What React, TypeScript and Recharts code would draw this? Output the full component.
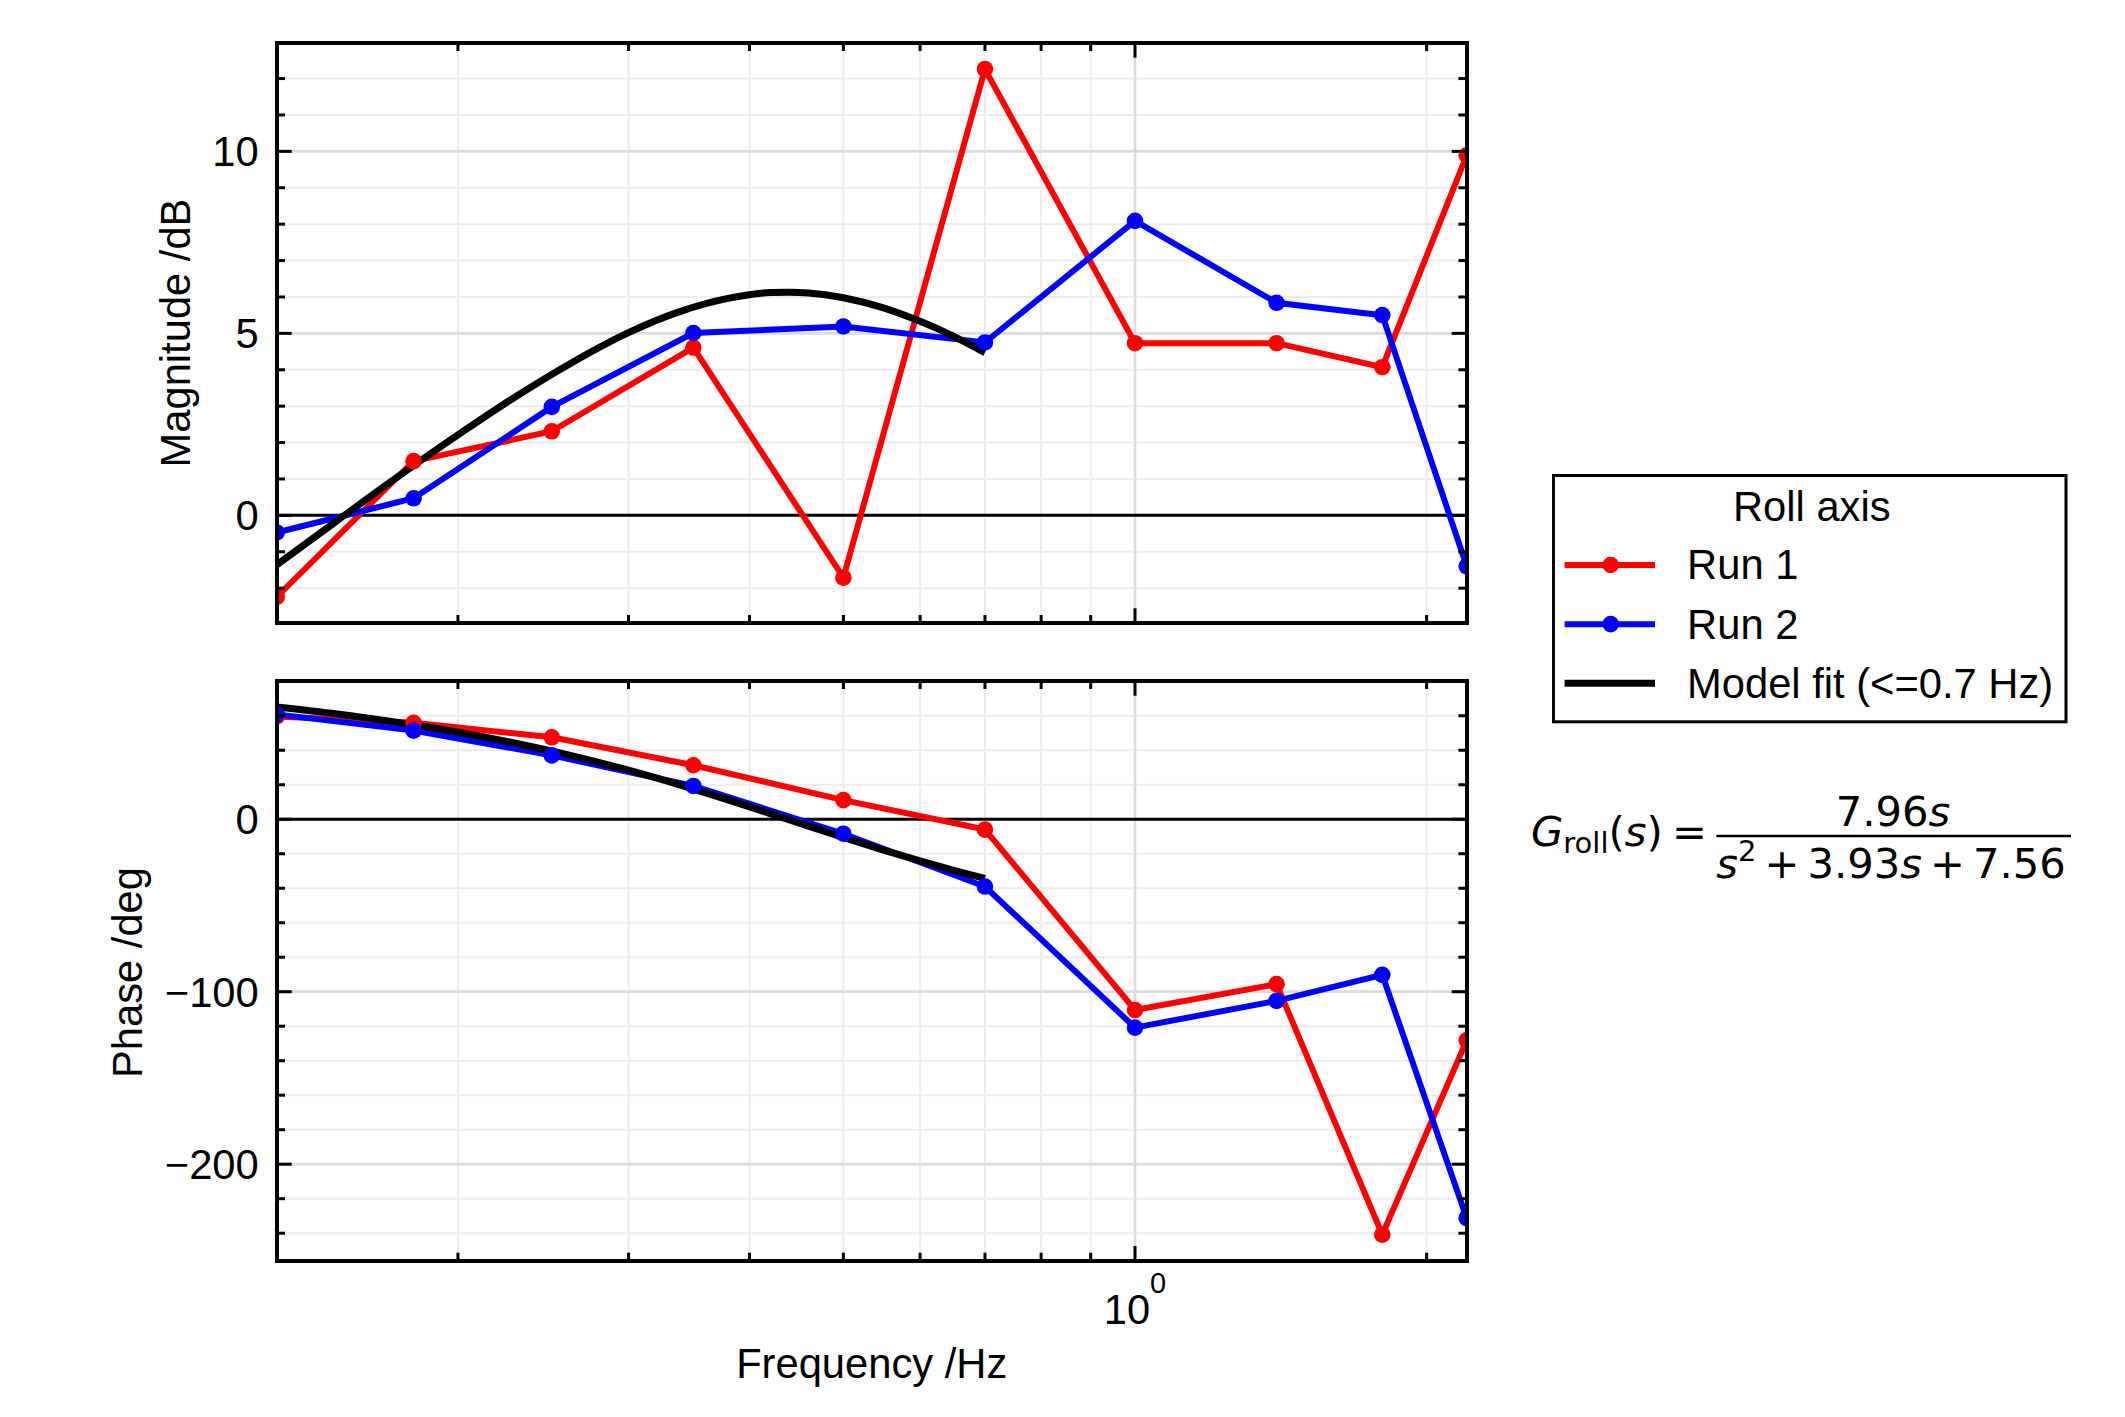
import React from 'react';
import { LineChart, Line, XAxis, YAxis, CartesianGrid, ReferenceLine, Legend } from 'recharts';

// ---------------- data ----------------
const freqs = [0.13, 0.18, 0.25, 0.35, 0.5, 0.7, 1.0, 1.4, 1.8, 2.2];
const run1Mag = [-2.24, 1.49, 2.31, 4.61, -1.71, 12.26, 4.73, 4.73, 4.07, 9.89];
const run2Mag = [-0.47, 0.47, 2.98, 5.01, 5.19, 4.75, 8.09, 5.84, 5.5, -1.4];
const run1Phase = [59.6, 55.9, 47.5, 31.3, 11.1, -6.0, -110.6, -95.6, -240.8, -128.2];
const run2Phase = [60.8, 51.4, 37.0, 19.3, -8.4, -39.0, -120.8, -105.3, -90.2, -231.3];

const modelFreqs = [0.13, 0.15, 0.17, 0.2, 0.23, 0.26, 0.3, 0.34, 0.38, 0.42, 0.44, 0.46, 0.5, 0.55, 0.6, 0.65, 0.7];
const modelMag = [-1.36, -0.15, 0.9, 2.21, 3.28, 4.14, 5.02, 5.61, 5.96, 6.12, 6.13, 6.11, 5.98, 5.7, 5.33, 4.92, 4.47];
const modelPhase = [65.03, 60.96, 56.82, 50.45, 43.93, 37.3, 28.41, 19.64, 11.21, 3.29, -0.44, -4.0, -10.6, -17.88, -24.18, -29.61, -34.29];

const freqTicks = [0.2, 0.3, 0.4, 0.5, 0.6, 0.7, 0.8, 0.9, 1, 2];
const freqMajor = [1];
const magTicks = [-2, -1, 0, 1, 2, 3, 4, 5, 6, 7, 8, 9, 10, 11, 12];
const magMajor = [0, 5, 10];
const phaseTicks = [-240, -220, -200, -180, -160, -140, -120, -100, -80, -60, -40, -20, 0, 20, 40, 60, 80];
const phaseMajor = [-200, -100, 0];

const seriesNames = ['Run 1', 'Run 2', 'Model fit (<=0.7 Hz)'];
const seriesColors = ['#ff0000', '#0000ff', '#000000'];
const legendTitle = 'Roll axis';
const xLabel = 'Frequency /Hz';
const magLabel = 'Magnitude /dB';
const phaseLabel = 'Phase /deg';
const fitNum = '7.96';
const fitB = '3.93';
const fitC = '7.56';

const freqDomain = [0.13, 2.2];
const magDomain = [-2.965, 12.985];
const phaseDomain = [-256.12, 80.32];

// ---------------- layout ----------------
const W = 2125;
const PLOT_LEFT = 276.7;
const PLOT_RIGHT = 1466.7;
const TOP1 = 42.7;
const BOT1 = 623.3;
const CH2_Y = 660;
const TOP2 = 680.7 - CH2_Y;
const BOT2 = 1261 - CH2_Y;
const H1 = 740;
const H2 = 757;
const XH1 = 1;
const XH2 = 120;

const FONT = '"Liberation Sans", Arial, Helvetica, sans-serif';
const MATH_FONT = '"DejaVu Sans", sans-serif';
const FS = 41.7;
const MAJOR_LEN = 15;
const MINOR_LEN = 8.3;
const TICK_W = 3;
const LW = 6;
const LW_FIT = 7;
const DOT_R = 8.3;

const toRows = (xs: number[], ys: number[]) => xs.map((f, i) => ({ f, v: ys[i] }));
const fmt = (v: number) => (v < 0 ? '\u2212' + Math.abs(v) : String(v));

const makeXTick = (top: number, bottom: number, withLabels: boolean) => (props: any) => {
  const x = props.x;
  const v = props.payload.value;
  const major = freqMajor.includes(v);
  const len = major ? MAJOR_LEN : MINOR_LEN;
  const expo = Math.round(Math.log10(v));
  return (
    <g>
      <line x1={x} x2={x} y1={bottom} y2={bottom - len} stroke="#000" strokeWidth={TICK_W} />
      <line x1={x} x2={x} y1={top} y2={top + len} stroke="#000" strokeWidth={TICK_W} />
      {withLabels && major ? (
        <text x={x} y={bottom + 63} textAnchor="middle" fontFamily={FONT} fontSize={FS} fill="#000">
          10
          <tspan dy={-31} fontSize={29}>{String(expo)}</tspan>
        </text>
      ) : null}
    </g>
  );
};

const makeYTick = (majors: number[]) => (props: any) => {
  const y = props.y;
  const v = props.payload.value;
  const major = majors.includes(v);
  const len = major ? MAJOR_LEN : MINOR_LEN;
  return (
    <g>
      <line x1={PLOT_LEFT} x2={PLOT_LEFT + len} y1={y} y2={y} stroke="#000" strokeWidth={TICK_W} />
      <line x1={PLOT_RIGHT - len} x2={PLOT_RIGHT} y1={y} y2={y} stroke="#000" strokeWidth={TICK_W} />
      {major ? (
        <text x={PLOT_LEFT - 18} y={y + 15} textAnchor="end" fontFamily={FONT} fontSize={FS} fill="#000">
          {fmt(v)}
        </text>
      ) : null}
    </g>
  );
};

const LEG_X = 1552;
const LEG_Y = 474;
const LEG_W = 515.5;
const LEG_H = 249.3;

const renderLegend = (props: any) => {
  const raw: any[] = props && props.payload && props.payload.length ? props.payload : [];
  const items = seriesNames.map((n, i) => {
    const found = raw.find((it: any) => it.value === n);
    return { value: n, color: (found && found.color) || seriesColors[i] };
  });
  return (
    <svg width={LEG_W} height={LEG_H} style={{ display: 'block', overflow: 'visible' }}>
      <rect x={1.5} y={1.5} width={LEG_W - 3} height={LEG_H - 3} fill="#fff" stroke="#000" strokeWidth={3} />
      <text x={LEG_W / 2 + 2} y={47} textAnchor="middle" fontFamily={FONT} fontSize={FS} fill="#000">
        {legendTitle}
      </text>
      {items.map((it: any, i: number) => {
        const cy = 91 + i * 59.15;
        const name = it.value;
        const color = it.color;
        const hasDot = name !== seriesNames[2];
        return (
          <g key={String(name)}>
            <line x1={12.6} x2={103} y1={cy} y2={cy} stroke={color} strokeWidth={hasDot ? LW : LW_FIT} />
            {hasDot ? <circle cx={58.7} cy={cy} r={DOT_R} fill={color} /> : null}
            <text x={135.1} y={cy + 14.4} fontFamily={FONT} fontSize={FS} fill="#000">
              {name}
            </text>
          </g>
        );
      })}
    </svg>
  );
};

const dotFor = (c: string) => ({ r: DOT_R, fill: c, stroke: c, strokeWidth: 0 });

const Frame = ({ top, bottom }: { top: number; bottom: number }) => (
  <div
    style={{
      position: 'absolute',
      left: PLOT_LEFT - 2,
      top: top - 2,
      width: PLOT_RIGHT - PLOT_LEFT + 4,
      height: bottom - top + 4,
      border: '4px solid #000',
      boxSizing: 'border-box',
      pointerEvents: 'none',
    }}
  />
);

export default function App() {
  return (
    <div style={{ position: 'absolute', left: 0, top: 0, width: W, height: 1417, background: '#fff', overflow: 'hidden' }}>
      {/* Magnitude panel */}
      <div style={{ position: 'absolute', left: 0, top: 0 }}>
        <LineChart
          width={W}
          height={H1}
          margin={{ top: TOP1, right: W - PLOT_RIGHT, bottom: H1 - BOT1 - XH1, left: 0 }}
        >
          <CartesianGrid stroke="#ececec" strokeWidth={2} />
          {magMajor.filter((v) => v !== 0).map((v) => (
            <ReferenceLine key={'mm' + v} y={v} stroke="#dcdcdc" strokeWidth={2.7} />
          ))}
          {freqMajor.map((v) => (
            <ReferenceLine key={'fm' + v} x={v} stroke="#dcdcdc" strokeWidth={2.7} />
          ))}
          <ReferenceLine y={0} stroke="#000" strokeWidth={3} />
          <XAxis
            type="number"
            dataKey="f"
            scale="log"
            domain={freqDomain}
            ticks={freqTicks}
            interval={0}
            allowDataOverflow
            axisLine={false}
            tickLine={false}
            tickSize={0}
            tickMargin={0}
            height={XH1}
            tick={makeXTick(TOP1, BOT1, false)}
          />
          <YAxis
            type="number"
            domain={magDomain}
            ticks={magTicks}
            interval={0}
            allowDataOverflow
            axisLine={false}
            tickLine={false}
            tickSize={0}
            tickMargin={0}
            width={PLOT_LEFT}
            tick={makeYTick(magMajor)}
            label={{
              content: () => (
                <text x={190} y={333} transform="rotate(-90 190 333)" textAnchor="middle" fontFamily={FONT} fontSize={FS} fill="#000">
                  {magLabel}
                </text>
              ),
            }}
          />
          <Line data={toRows(freqs, run1Mag)} dataKey="v" name={seriesNames[0]} stroke={seriesColors[0]} strokeWidth={LW} dot={dotFor(seriesColors[0])} activeDot={false} isAnimationActive={false} />
          <Line data={toRows(freqs, run2Mag)} dataKey="v" name={seriesNames[1]} stroke={seriesColors[1]} strokeWidth={LW} dot={dotFor(seriesColors[1])} activeDot={false} isAnimationActive={false} />
          <Line data={toRows(modelFreqs, modelMag)} dataKey="v" name={seriesNames[2]} type="monotone" stroke={seriesColors[2]} strokeWidth={LW_FIT} dot={false} activeDot={false} isAnimationActive={false} />
          <Legend
            layout="vertical"
            align="center"
            verticalAlign="middle"
            wrapperStyle={{ position: 'absolute', left: LEG_X, top: LEG_Y, width: LEG_W, height: LEG_H, margin: 0, padding: 0 }}
            content={renderLegend}
          />
        </LineChart>
      </div>

      {/* Phase panel */}
      <div style={{ position: 'absolute', left: 0, top: CH2_Y }}>
        <LineChart
          width={W}
          height={H2}
          margin={{ top: TOP2, right: W - PLOT_RIGHT, bottom: H2 - BOT2 - XH2, left: 0 }}
        >
          <CartesianGrid stroke="#ececec" strokeWidth={2} />
          {phaseMajor.filter((v) => v !== 0).map((v) => (
            <ReferenceLine key={'pm' + v} y={v} stroke="#dcdcdc" strokeWidth={2.7} />
          ))}
          {freqMajor.map((v) => (
            <ReferenceLine key={'fm2' + v} x={v} stroke="#dcdcdc" strokeWidth={2.7} />
          ))}
          <ReferenceLine y={0} stroke="#000" strokeWidth={3} />
          <XAxis
            type="number"
            dataKey="f"
            scale="log"
            domain={freqDomain}
            ticks={freqTicks}
            interval={0}
            allowDataOverflow
            axisLine={false}
            tickLine={false}
            tickSize={0}
            tickMargin={0}
            height={XH2}
            tick={makeXTick(TOP2, BOT2, true)}
            label={{
              content: () => (
                <text x={(PLOT_LEFT + PLOT_RIGHT) / 2} y={1378 - CH2_Y} textAnchor="middle" fontFamily={FONT} fontSize={FS} fill="#000">
                  {xLabel}
                </text>
              ),
            }}
          />
          <YAxis
            type="number"
            domain={phaseDomain}
            ticks={phaseTicks}
            interval={0}
            allowDataOverflow
            axisLine={false}
            tickLine={false}
            tickSize={0}
            tickMargin={0}
            width={PLOT_LEFT}
            tick={makeYTick(phaseMajor)}
            label={{
              content: () => (
                <text x={141.7} y={312.5} transform="rotate(-90 141.7 312.5)" textAnchor="middle" fontFamily={FONT} fontSize={FS} fill="#000">
                  {phaseLabel}
                </text>
              ),
            }}
          />
          <Line data={toRows(freqs, run1Phase)} dataKey="v" name={seriesNames[0]} stroke={seriesColors[0]} strokeWidth={LW} dot={dotFor(seriesColors[0])} activeDot={false} isAnimationActive={false} />
          <Line data={toRows(freqs, run2Phase)} dataKey="v" name={seriesNames[1]} stroke={seriesColors[1]} strokeWidth={LW} dot={dotFor(seriesColors[1])} activeDot={false} isAnimationActive={false} />
          <Line data={toRows(modelFreqs, modelPhase)} dataKey="v" name={seriesNames[2]} type="monotone" stroke={seriesColors[2]} strokeWidth={LW_FIT} dot={false} activeDot={false} isAnimationActive={false} />
        </LineChart>
      </div>

      <Frame top={TOP1} bottom={BOT1} />
      <Frame top={TOP2 + CH2_Y} bottom={BOT2 + CH2_Y} />

      {/* Transfer function annotation */}
      <svg style={{ position: 'absolute', left: 0, top: 0, pointerEvents: 'none' }} width={W} height={1417}>
        <text x={1531} y={846} fontFamily={MATH_FONT} fontSize={FS} fill="#000">
          <tspan fontStyle="italic">G</tspan>
          <tspan fontSize={29} dy={7}>roll</tspan>
          <tspan dy={-7}>(</tspan>
          <tspan fontStyle="italic">s</tspan>
          <tspan>)</tspan>
        </text>
        <text x={1672} y={846} fontFamily={MATH_FONT} fontSize={FS} fill="#000">=</text>
        <text x={1893} y={825.7} textAnchor="middle" fontFamily={MATH_FONT} fontSize={FS} fill="#000">
          {fitNum}
          <tspan fontStyle="italic">s</tspan>
        </text>
        <line x1={1716.4} x2={2071} y1={836} y2={836} stroke="#000" strokeWidth={2.5} />
        <text x={1891} y={878.3} textAnchor="middle" fontFamily={MATH_FONT} fontSize={FS} fill="#000">
          <tspan fontStyle="italic">s</tspan>
          <tspan fontSize={29} dy={-17}>2</tspan>
          <tspan dy={17} dx={8}>+</tspan>
          <tspan dx={8}>{fitB}</tspan>
          <tspan fontStyle="italic">s</tspan>
          <tspan dx={8}>+</tspan>
          <tspan dx={8}>{fitC}</tspan>
        </text>
      </svg>
    </div>
  );
}
